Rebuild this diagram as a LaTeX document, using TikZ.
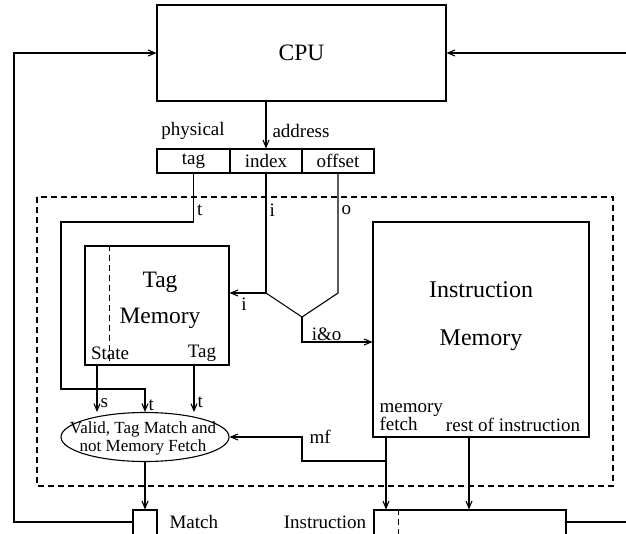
\documentclass[tikz,border=0pt]{standalone}
\usepackage{fontspec}
\setmainfont{Liberation Serif}
\usepackage{tikz}
\usetikzlibrary{positioning,shapes.geometric,arrows.meta}

\tikzset{
  unit/.style={draw,rectangle,inner sep=0pt},
  big/.style={font=\fontsize{23.5}{36}\selectfont},
  lbl/.style={font=\fontsize{19}{17}\selectfont,inner sep=1pt},
  arr/.style={->},
  dsh/.style={dash pattern=on 6pt off 4pt}
}

\begin{document}
\begin{tikzpicture}[x=1pt,y=-1pt,line width=1.1pt,>={Straight Barb[length=7pt,width=6pt]}]
    \useasboundingbox (0,0) rectangle (626,533);
    \node[unit,big,minimum width=289,minimum height=96] (cpu) at (301.5,53) {CPU};
    \node[unit,lbl,minimum width=73,minimum height=24] (tagf)    at (193.5,161) {tag};
    \node[unit,lbl,minimum width=72,minimum height=24] (indexf)  at (266,161)   {index};
    \node[unit,lbl,minimum width=72,minimum height=24] (offsetf) at (338,161)   {offset};
    \node[lbl] (phys) at (193,131) {physical};
    \node[lbl] (addr) at (301,131) {address};
    \draw[dsh] (37,197) rectangle (613,486);
    \node[unit,minimum width=144,minimum height=119] (tagmem) at (157,305.5) {};
    \node[big,align=center] (taglbl) at (160,300) {Tag\\Memory};
    \node[unit,minimum width=216,minimum height=215] (instmem) at (481,329.5) {};
    \node[big,align=center,font=\fontsize{24}{48}\selectfont] (instlbl) at (481,316) {Instruction\\Memory};
    \node[lbl] (state) at (110,353) {State};
    \node[lbl] (tagl)  at (202,353) {Tag};
    \node[lbl,anchor=west,align=left] (mfetch) at (378,417) {memory\\fetch};
    \node[lbl] (rest) at (513,425) {rest of instruction};
    \node[draw,ellipse,inner sep=0pt,minimum width=168,minimum height=49] (valid) at (145,437) {};
    \node[align=center,font=\fontsize{17}{18}\selectfont] (validl) at (143,438) {Valid, Tag Match and\\not Memory Fetch};
    \node[unit,minimum width=24,minimum height=30] (matchbox) at (145,525) {};
    \node[unit,minimum width=192,minimum height=30] (instbox)  at (470,525) {};
    \node[lbl,anchor=west] (matchl) at (168,522) {Match};
    \node[lbl] (instl) at (325,522) {Instruction};
    \coordinate (lft)  at (14,522);
    \coordinate (rgt)  at (626,53);
    \coordinate (rgtb) at (626,522);
    \coordinate (tj)   at (61,222);
    \coordinate (tb)   at (61,389);
    \coordinate (ij)   at (266,293);
    \coordinate (oj)   at (338,293);
    \coordinate (io)   at (302,317);
    \coordinate (iob)  at (302,342);
    \coordinate (sIn)  at (97,412);
    \coordinate (tIn)  at (194,412);
    \coordinate (mfx)  at (386,461);
    \coordinate (mfc)  at (302,437);
    \coordinate (rx)   at (469,437);
    \draw[dsh,line width=0.9pt] (tagmem.north -| 109,0) -- (tagmem.south -| 109,0);
    \draw[dsh,line width=0.9pt] (instbox.north -| 398,0) -- (instbox.south -| 398,0);
    \draw[arr] (matchbox.west |- lft) -- (lft) |- (cpu.west);
    \draw[arr] (rgt) -- (cpu.east);
    \draw (instbox.east |- rgtb) -- (rgtb);
    \draw[arr] (indexf.north |- cpu.south) -- (indexf.north);
    \draw[arr] (tagf.south) -- (tagf.south |- tj) node[lbl,right=2pt,pos=0.75] {t} -- (tj) -- (tb) -| (valid.north) node[lbl,right=2pt,pos=0.85] {t};
    \draw[arr] (indexf.south) -- (ij) node[lbl,right=2pt,pos=0.31] {i} -- (ij -| tagmem.east) node[lbl,below=3pt,pos=0.6] {i};
    \draw (offsetf.south) -- (oj) node[lbl,right=2pt,pos=0.31] {o} -- (io) -- (ij);
    \draw[arr] (io) -- (iob) -- (iob -| instmem.west) node[lbl,above,pos=0.35] {i\&o};
    \draw[arr] (sIn |- tagmem.south) -- (sIn) node[lbl,right=2pt,pos=0.8] {s};
    \draw[arr] (tIn |- tagmem.south) -- (tIn) node[lbl,right=2pt,pos=0.8] {t};
    \draw[arr] (mfx |- instmem.south) -- (mfx |- instbox.north);
    \draw[arr] (mfx) -| (mfc) node[lbl,right=6pt] {mf} -- (valid.east);
    \draw[arr] (rx |- instmem.south) -- (rx |- instbox.north);
    \draw[arr] (valid.south) -- (matchbox.north);
\end{tikzpicture}
\end{document}
